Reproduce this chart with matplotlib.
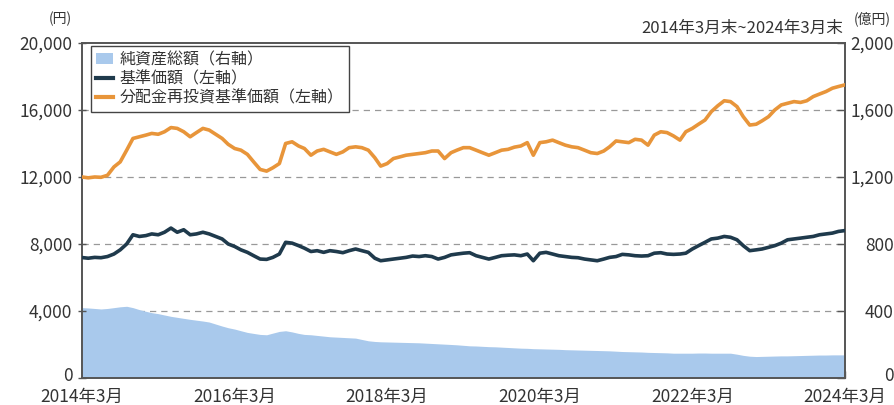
import matplotlib
matplotlib.use("Agg")
import matplotlib.pyplot as plt
import matplotlib.transforms as mtransforms
import numpy as np
import pandas as pd
from matplotlib.patches import Patch
from matplotlib.lines import Line2D

plt.rcParams['font.family'] = ['Noto Sans CJK JP', 'DejaVu Sans']

# Month-end dates, 2014-03 to 2024-03
dates = pd.date_range("2014-03-31", "2024-03-31", freq="ME")

# 基準価額 (yen)
nav = [7190, 7150, 7200, 7180, 7250, 7400, 7650, 8000, 8550, 8450,
       8500, 8600, 8550, 8700, 8950, 8700, 8850, 8550, 8600, 8700,
       8600, 8450, 8300, 8000, 7850, 7650, 7500, 7300, 7100, 7080,
       7200, 7400, 8100, 8050, 7900, 7750, 7550, 7600, 7500, 7600,
       7550, 7480, 7600, 7700, 7600, 7500, 7150, 7000, 7050, 7100,
       7150, 7200, 7280, 7250, 7300, 7250, 7100, 7200, 7350, 7400,
       7450, 7480, 7300, 7200, 7100, 7200, 7300, 7330, 7350, 7300,
       7400, 7000, 7450, 7500, 7400, 7300, 7250, 7200, 7180, 7100,
       7050, 7000, 7100, 7200, 7250, 7380, 7350, 7300, 7280, 7300,
       7450, 7480, 7400, 7380, 7400, 7450, 7700, 7900, 8100, 8300,
       8350, 8450, 8400, 8250, 7900, 7600, 7650, 7700, 7800, 7900,
       8050, 8250, 8300, 8350, 8400, 8450, 8550, 8600, 8650, 8750,
       8800]

# 分配金再投資基準価額 (yen)
nav_reinv = [12000, 11950, 12000, 11980, 12100, 12600, 12900, 13600, 14300, 14400,
             14500, 14600, 14550, 14700, 14950, 14900, 14700, 14400, 14650, 14900,
             14800, 14550, 14300, 13950, 13700, 13600, 13350, 12900, 12450, 12350,
             12550, 12800, 14000, 14100, 13850, 13700, 13300, 13550, 13650, 13500,
             13350, 13500, 13750, 13800, 13750, 13600, 13150, 12650, 12800, 13100,
             13200, 13300, 13350, 13400, 13450, 13550, 13550, 13100, 13450, 13600,
             13750, 13750, 13600, 13450, 13300, 13450, 13600, 13650, 13780, 13850,
             14050, 13300, 14050, 14100, 14200, 14050, 13900, 13800, 13750, 13600,
             13450, 13400, 13550, 13800, 14150, 14100, 14050, 14250, 14200, 13900,
             14500, 14700, 14650, 14450, 14200, 14700, 14900, 15150, 15400, 15900,
             16250, 16550, 16500, 16200, 15600, 15100, 15150, 15350, 15600, 16000,
             16300, 16400, 16500, 16450, 16550, 16800, 16950, 17100, 17300, 17400,
             17500]

# 純資産総額 (100 million yen)
net_assets = [420, 418, 415, 412, 415, 420, 425, 428, 420, 408,
              398, 390, 384, 376, 368, 362, 356, 350, 345, 340,
              334, 322, 310, 300, 292, 282, 272, 266, 260, 258,
              268, 278, 282, 275, 266, 260, 258, 254, 250, 246,
              244, 242, 240, 238, 230, 222, 218, 216, 215, 214,
              213, 212, 211, 210, 208, 206, 204, 202, 200, 198,
              195, 192, 191, 189, 187, 186, 184, 182, 180, 178,
              177, 175, 174, 173, 172, 171, 169, 168, 167, 166,
              165, 164, 163, 162, 160, 158, 157, 156, 155, 153,
              152, 151, 150, 148, 148, 148, 148, 149, 149, 148,
              148, 148, 148, 142, 135, 130, 128, 129, 130, 131,
              132, 132, 133, 134, 135, 136, 137, 137, 138, 138,
              138]

left_ticks = [0, 4000, 8000, 12000, 16000, 20000]
right_ticks = [0, 400, 800, 1200, 1600, 2000]
xtick_dates = pd.to_datetime(["2014-03-31", "2016-03-31", "2018-03-31",
                              "2020-03-31", "2022-03-31", "2024-03-31"])
xtick_labels = ["2014年3月", "2016年3月", "2018年3月", "2020年3月", "2022年3月", "2024年3月"]

c_area = "#a9c9ec"
c_nav = "#1f3a4c"
c_reinv = "#e8953a"
c_text = "#333333"
c_spine = "#555555"

fig = plt.figure(figsize=(8.95, 4.05), dpi=100)
ax2 = fig.add_axes([0.0916, 0.0667, 0.8525, 0.8272])
ax = ax2.twinx()
# left axis in front, its ticks on the left
ax.yaxis.tick_left()
ax2.yaxis.tick_right()
ax.set_zorder(ax2.get_zorder() + 1)
ax.patch.set_visible(False)

# right axis: area + grid
ax2.fill_between(dates, net_assets, 0, color=c_area, lw=0, zorder=2)
ax2.set_ylim(0, 2000)
ax2.set_yticks(right_ticks)
ax2.set_yticklabels([f"{v:,}" for v in right_ticks])
for v in right_ticks[1:-1]:
    ax2.axhline(v, color="#999999", lw=0.9, ls=(0, (5, 4)), zorder=1)

# left axis: lines
ax.plot(dates, nav, color=c_nav, lw=2.6, zorder=3)
ax.plot(dates, nav_reinv, color=c_reinv, lw=2.6, zorder=3)
ax.set_ylim(0, 20000)
ax.set_yticks(left_ticks)
ax.set_yticklabels([f"{v:,}" for v in left_ticks])
ax.set_xlim(dates[0], dates[-1])
ax.set_xticks(xtick_dates)
ax.set_xticklabels(xtick_labels)
ax2.set_xticks(xtick_dates)
ax2.set_xticklabels(xtick_labels)

ax.tick_params(axis="y", direction="inout", length=6, width=1, color=c_spine,
               labelsize=12.5, labelcolor=c_text, pad=4)
ax2.tick_params(axis="y", direction="in", length=6, width=1, color=c_spine,
                labelsize=12.5, labelcolor=c_text, pad=35)
for lab in ax2.get_yticklabels():
    lab.set_horizontalalignment("right")
ax2.tick_params(axis="x", direction="in", length=5, width=1, color=c_spine,
                labelsize=12.5, labelcolor=c_text, pad=7)
ax.tick_params(axis="x", length=0, labelbottom=False)

# lift the two "0" labels a little so they clear the date labels
lift = mtransforms.ScaledTranslation(0, 3 / 72, fig.dpi_scale_trans)
for lab in (ax.get_yticklabels()[0], ax2.get_yticklabels()[0]):
    lab.set_transform(lab.get_transform() + lift)

for a in (ax, ax2):
    for s in a.spines.values():
        s.set_color(c_spine)
        s.set_linewidth(1.2)

fig.text(0.067, 0.953, "(円)", fontsize=10, color=c_text, ha="center", va="center")
fig.text(0.975, 0.953, "(億円)", fontsize=10, color=c_text, ha="center", va="center")
fig.text(0.942, 0.93, "2014年3月末~2024年3月末", fontsize=12, color=c_text,
         ha="right", va="center")

handles = [Patch(facecolor=c_area, edgecolor="none"),
           Line2D([], [], color=c_nav, lw=3),
           Line2D([], [], color=c_reinv, lw=3)]
labels = ["純資産総額（右軸）", "基準価額（左軸）", "分配金再投資基準価額（左軸）"]
leg = ax.legend(handles, labels, loc="upper left", bbox_to_anchor=(0.012, 0.99),
                fontsize=11.5, frameon=True, fancybox=False, framealpha=1,
                edgecolor="#444444", handlelength=1.1, handletextpad=0.4,
                labelspacing=0.15, borderpad=0.3, borderaxespad=0)
leg.get_frame().set_linewidth(1.0)
for t in leg.get_texts():
    t.set_color(c_text)

fig.savefig("out.png", dpi=100)
